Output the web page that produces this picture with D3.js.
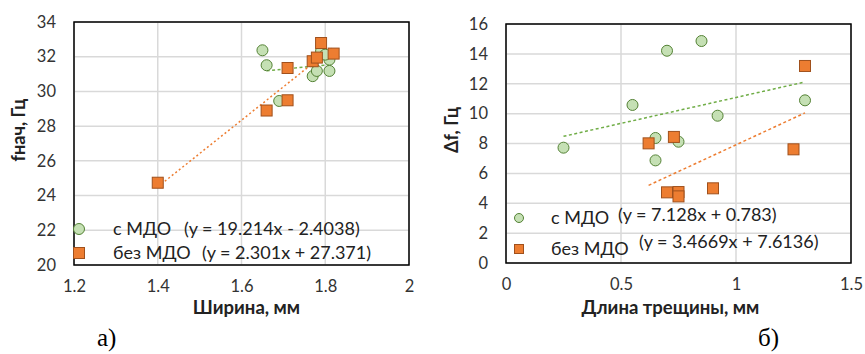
<!DOCTYPE html>
<html>
<head>
<meta charset="utf-8">
<script src="https://cdn.jsdelivr.net/npm/d3@7"></script>
<style>
  body { margin: 0; background: #fff; }
  svg { display: block; }
  .tick text { font-family: Lato, "Open Sans", sans-serif; font-size: 16.5px; fill: #333; }
</style>
</head>
<body>
<div class="chart"></div>
<script>
// a) ширина -> fнач
const aXWithMdo = [1.65, 1.66, 1.69, 1.77, 1.78, 1.81, 1.81, 1.79, 1.80];
const aYWithMdo = [32.37, 31.51, 29.45, 30.88, 31.18, 31.18, 31.83, 32.33, 32.12];
const aXNoMdo = [1.40, 1.66, 1.71, 1.71, 1.77, 1.78, 1.79, 1.82];
const aYNoMdo = [24.74, 28.9, 29.49, 31.35, 31.74, 31.95, 32.79, 32.18];
const aTrendWith = [[1.66, 31.19], [1.81, 31.54]];
const aTrendNo = [[1.40, 24.5], [1.82, 32.57]];
const aXTicks = [1.2, 1.4, 1.6, 1.8, 2];
const aYTicks = [20, 22, 24, 26, 28, 30, 32, 34];

// б) длина трещины -> Δf
const bXWithMdo = [0.25, 0.55, 0.65, 0.65, 0.70, 0.75, 0.85, 0.92, 1.30];
const bYWithMdo = [7.72, 10.58, 8.37, 6.87, 14.21, 8.12, 14.86, 9.86, 10.89];
const bXNoMdo = [0.62, 0.73, 0.70, 0.75, 0.75, 0.90, 1.25, 1.30];
const bYNoMdo = [8.01, 8.44, 4.73, 4.75, 4.46, 5.0, 7.61, 13.19];
const bTrendWith = [[0.25, 8.48], [1.30, 12.12]];
const bTrendNo = [[0.62, 5.20], [1.30, 10.05]];
const bXTicks = [0, 0.5, 1, 1.5];
const bYTicks = [0, 2, 4, 6, 8, 10, 12, 14, 16];

const seriesNames = ["с МДО", "без МДО"];
const aEquations = ["(y = 19.214x - 2.4038)", "(y = 2.301x + 27.371)"];
const bEquations = ["(y = 7.128x + 0.783)", "(y = 3.4669x + 7.6136)"];

const green = "#c5e0b4", greenDark = "#548235", greenLine = "#70ad47";
const orange = "#ed7d31", orangeDark = "#a0501c";
const font = "Lato, 'Open Sans', sans-serif";

const svg = d3.select(".chart").append("svg")
  .attr("width", 865)
  .attr("height", 354);

function drawChart(c) {
  const x = d3.scaleLinear().domain(c.xDomain).range([c.left, c.right]);
  const y = d3.scaleLinear().domain(c.yDomain).range([c.bottom, c.top]);
  const g = svg.append("g");

  // grid
  g.append("g").selectAll("line").data(c.xTicks).join("line")
    .attr("x1", d => x(d)).attr("x2", d => x(d))
    .attr("y1", c.top).attr("y2", c.bottom)
    .attr("stroke", "#d9d9d9").attr("stroke-width", 1.5);
  g.append("g").selectAll("line").data(c.yTicks).join("line")
    .attr("y1", d => y(d)).attr("y2", d => y(d))
    .attr("x1", c.left).attr("x2", c.right)
    .attr("stroke", "#d9d9d9").attr("stroke-width", 1.5);

  // axes (labels only)
  const xAxis = g.append("g")
    .attr("transform", "translate(0," + c.bottom + ")")
    .call(d3.axisBottom(x).tickValues(c.xTicks).tickFormat(d3.format("")).tickSize(0).tickPadding(15));
  const yAxis = g.append("g")
    .attr("transform", "translate(" + c.left + ",0)")
    .call(d3.axisLeft(y).tickValues(c.yTicks).tickSize(0).tickPadding(c.yPad));
  xAxis.select(".domain").remove();
  yAxis.select(".domain").remove();

  // trend lines
  const line = d3.line().x(d => x(d[0])).y(d => y(d[1]));
  g.append("path").datum(c.trendWith).attr("d", line)
    .attr("fill", "none").attr("stroke", greenLine).attr("stroke-width", 1.5)
    .attr("stroke-dasharray", "3,2.5");
  g.append("path").datum(c.trendNo).attr("d", line)
    .attr("fill", "none").attr("stroke", orange).attr("stroke-width", 1.5)
    .attr("stroke-dasharray", c.orangeDash);

  // markers
  g.append("g").selectAll("circle").data(d3.zip(c.xWith, c.yWith)).join("circle")
    .attr("cx", d => x(d[0])).attr("cy", d => y(d[1])).attr("r", c.r)
    .attr("fill", green).attr("stroke", greenDark).attr("stroke-width", 1);
  g.append("g").selectAll("rect").data(d3.zip(c.xNo, c.yNo)).join("rect")
    .attr("x", d => x(d[0]) - c.sq / 2).attr("y", d => y(d[1]) - c.sq / 2)
    .attr("width", c.sq).attr("height", c.sq)
    .attr("fill", orange).attr("stroke", orangeDark).attr("stroke-width", 1);

  // frame
  g.append("rect")
    .attr("x", c.left).attr("y", c.top)
    .attr("width", c.right - c.left).attr("height", c.bottom - c.top)
    .attr("fill", "none").attr("stroke", "#000").attr("stroke-width", 1.5);

  // legend
  const lg = g.append("g").attr("font-family", font).attr("font-size", c.legendSize).attr("fill", "#222");
  lg.append("circle").attr("cx", c.legX).attr("cy", c.leg[0].my).attr("r", c.legR)
    .attr("fill", green).attr("stroke", greenDark);
  lg.append("rect").attr("x", c.legX - c.legSq / 2).attr("y", c.leg[1].my - c.legSq / 2)
    .attr("width", c.legSq).attr("height", c.legSq)
    .attr("fill", orange).attr("stroke", orangeDark);
  c.leg.forEach((l, i) => {
    lg.append("text").attr("x", c.nameX).attr("y", l.ny).text(seriesNames[i]);
    lg.append("text").attr("x", l.ex).attr("y", l.ey).text(c.equations[i]);
  });

  // titles
  g.append("text")
    .attr("x", (c.left + c.right) / 2 + c.xTitleShift).attr("y", 314)
    .attr("text-anchor", "middle").attr("font-family", font)
    .attr("font-weight", "bold").attr("font-size", 18.5).attr("fill", "#222")
    .text(c.xTitle);
  g.append("text")
    .attr("transform", "translate(" + c.yTitleX + ",130) rotate(-90)")
    .attr("text-anchor", "middle").attr("font-family", font)
    .attr("font-weight", "bold").attr("font-size", 18).attr("fill", "#222")
    .text(c.yTitle);
  g.append("text")
    .attr("x", c.capX).attr("y", 346)
    .attr("font-family", "'Liberation Serif', 'Times New Roman', serif")
    .attr("font-size", 25).attr("fill", "#000")
    .text(c.caption);
}

drawChart({
  left: 74, right: 409, top: 22, bottom: 265,
  xDomain: [1.2, 2], yDomain: [20, 34], xTicks: aXTicks, yTicks: aYTicks, yPad: 18,
  xWith: aXWithMdo, yWith: aYWithMdo, xNo: aXNoMdo, yNo: aYNoMdo,
  trendWith: aTrendWith, trendNo: aTrendNo, orangeDash: "2,2.5",
  r: 5.5, sq: 11, legR: 5.5, legSq: 11, legX: 79, nameX: 113, legendSize: 18,
  leg: [{ my: 229, ny: 235, ex: 184, ey: 235 }, { my: 253, ny: 259, ex: 202, ey: 259 }],
  equations: aEquations,
  xTitle: "Ширина, мм", xTitleShift: 5, yTitle: "fнач, Гц", yTitleX: 25,
  caption: "а)", capX: 97
});

drawChart({
  left: 506, right: 851, top: 24, bottom: 263,
  xDomain: [0, 1.5], yDomain: [0, 16], xTicks: bXTicks, yTicks: bYTicks, yPad: 18,
  xWith: bXWithMdo, yWith: bYWithMdo, xNo: bXNoMdo, yNo: bYNoMdo,
  trendWith: bTrendWith, trendNo: bTrendNo, orangeDash: "3,2.5",
  r: 5.5, sq: 11, legR: 4.5, legSq: 9, legX: 519, nameX: 551, legendSize: 18,
  leg: [{ my: 218, ny: 224, ex: 618, ey: 221 }, { my: 249, ny: 255, ex: 639, ey: 248 }],
  equations: bEquations,
  xTitle: "Длина трещины, мм", xTitleShift: -8, yTitle: "Δf, Гц", yTitleX: 458,
  caption: "б)", capX: 758
});
</script>
</body>
</html>
